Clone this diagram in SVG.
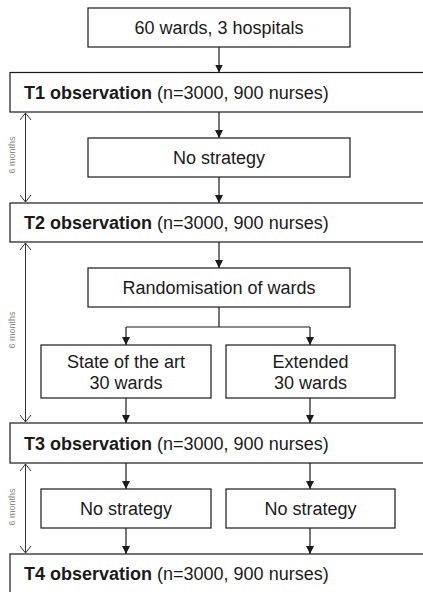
<svg xmlns="http://www.w3.org/2000/svg" width="423" height="592" viewBox="0 0 423 592">
<defs>
<style>
.box{fill:#fff;stroke:#1a1a1a;stroke-width:1.2}
.t{font-family:"Liberation Sans",Arial,sans-serif;font-size:18px;fill:#1a1a1a}
.c{text-anchor:middle}
.b{font-weight:bold}
.ln{fill:none;stroke:#1a1a1a;stroke-width:1.2}
.dur{fill:none;stroke:#333;stroke-width:1}
.m{font-family:"Liberation Sans",Arial,sans-serif;font-size:9px;fill:#888;text-anchor:middle}
</style>
<marker id="ah" markerUnits="userSpaceOnUse" markerWidth="8" markerHeight="10" refX="8" refY="4" orient="auto">
<path d="M0,0 L8,4 L0,8 Z" fill="#1a1a1a"/>
</marker>
<marker id="oh" markerUnits="userSpaceOnUse" markerWidth="10" markerHeight="12" refX="8" refY="6" orient="auto-start-reverse">
<path d="M1,0.5 L8,6 L1,11.5" fill="none" stroke="#333" stroke-width="1"/>
</marker>
</defs>
<rect width="423" height="592" fill="#fff"/>
<g id="connectors">
<line class="ln" x1="219" y1="47" x2="219" y2="72.5" marker-end="url(#ah)"/>
<line class="ln" x1="219" y1="112" x2="219" y2="138" marker-end="url(#ah)"/>
<line class="ln" x1="219" y1="177" x2="219" y2="203" marker-end="url(#ah)"/>
<line class="ln" x1="219" y1="242" x2="219" y2="268" marker-end="url(#ah)"/>
<path class="ln" d="M219,307 V327 M126,327 H310"/>
<line class="ln" x1="126" y1="327" x2="126" y2="345" marker-end="url(#ah)"/>
<line class="ln" x1="310" y1="327" x2="310" y2="345" marker-end="url(#ah)"/>
<line class="ln" x1="126" y1="398" x2="126" y2="423" marker-end="url(#ah)"/>
<line class="ln" x1="310" y1="398" x2="310" y2="423" marker-end="url(#ah)"/>
<line class="ln" x1="126" y1="463" x2="126" y2="489" marker-end="url(#ah)"/>
<line class="ln" x1="310" y1="463" x2="310" y2="489" marker-end="url(#ah)"/>
<line class="ln" x1="126" y1="528" x2="126" y2="554" marker-end="url(#ah)"/>
<line class="ln" x1="310" y1="528" x2="310" y2="554" marker-end="url(#ah)"/>
<line class="dur" x1="25.5" y1="113" x2="25.5" y2="202" marker-start="url(#oh)" marker-end="url(#oh)"/>
<line class="dur" x1="25.5" y1="243" x2="25.5" y2="422" marker-start="url(#oh)" marker-end="url(#oh)"/>
<line class="dur" x1="25.5" y1="464" x2="25.5" y2="553" marker-start="url(#oh)" marker-end="url(#oh)"/>
<text class="m" transform="translate(15,155) rotate(-90)">6 months</text>
<text class="m" transform="translate(15,330) rotate(-90)">6 months</text>
<text class="m" transform="translate(15,507) rotate(-90)">6 months</text>
</g>
<g id="start"><rect class="box" x="88" y="8" width="262" height="39"/><text class="t c" x="219" y="34">60 wards, 3 hospitals</text></g>
<g id="t1"><rect class="box" x="10" y="72.5" width="430" height="39.5"/><text class="t" x="24" y="99"><tspan class="b">T1 observation</tspan> (n=3000, 900 nurses)</text></g>
<g id="none1"><rect class="box" x="88" y="138" width="262" height="39"/><text class="t c" x="219" y="164">No strategy</text></g>
<g id="t2"><rect class="box" x="10" y="203" width="430" height="39"/><text class="t" x="24" y="229"><tspan class="b">T2 observation</tspan> (n=3000, 900 nurses)</text></g>
<g id="rand"><rect class="box" x="88" y="268" width="262" height="39"/><text class="t c" x="219" y="294">Randomisation of wards</text></g>
<g id="sota"><rect class="box" x="41" y="345" width="170" height="53"/><text class="t c" x="126" y="368">State of the art</text><text class="t c" x="126" y="389">30 wards</text></g>
<g id="ext"><rect class="box" x="226" y="345" width="169" height="53"/><text class="t c" x="310.5" y="368">Extended</text><text class="t c" x="310.5" y="389">30 wards</text></g>
<g id="t3"><rect class="box" x="10" y="423" width="430" height="40"/><text class="t" x="24" y="450"><tspan class="b">T3 observation</tspan> (n=3000, 900 nurses)</text></g>
<g id="none2"><rect class="box" x="41" y="489" width="170" height="39"/><text class="t c" x="126" y="515">No strategy</text></g>
<g id="none3"><rect class="box" x="226" y="489" width="169" height="39"/><text class="t c" x="310.5" y="515">No strategy</text></g>
<g id="t4"><rect class="box" x="10" y="554" width="430" height="50"/><text class="t" x="24" y="580"><tspan class="b">T4 observation</tspan> (n=3000, 900 nurses)</text></g>
</svg>
